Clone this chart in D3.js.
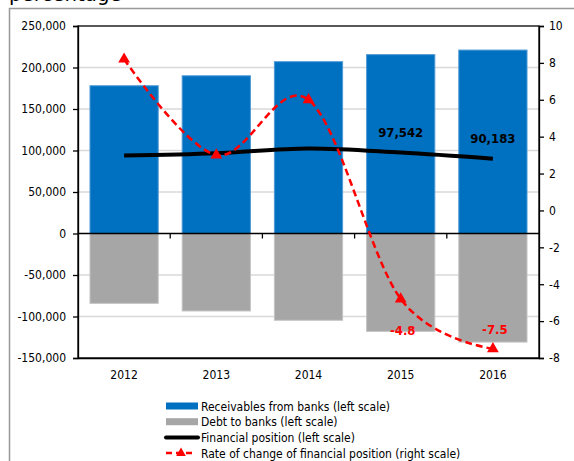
<!DOCTYPE html>
<html>
<head>
<meta charset="utf-8">
<script src="https://cdn.jsdelivr.net/npm/d3@7"></script>
<style>
  body { margin: 0; background: #fff; }
  svg text { font-family: "DejaVu Sans Condensed", "DejaVu Sans", sans-serif; }
</style>
</head>
<body>
<div id="content"></div>
<script>
// datas
const years = ["2012", "2013", "2014", "2015", "2016"];
const receivables = [178000, 190000, 207000, 215500, 221000];
const debt = [-84155, -93340, -104540, -117958, -130817];
const financial = [93845, 96660, 102460, 97542, 90183];
const rateChange = [8.2, 3.0, 6.0, -4.8, -7.5];
const leftTicks = [-150000, -100000, -50000, 0, 50000, 100000, 150000, 200000, 250000];
const rightTicks = [-8, -6, -4, -2, 0, 2, 4, 6, 8, 10];
const legendItems = [
  "Receivables from banks (left scale)",
  "Debt to banks (left scale)",
  "Financial position (left scale)",
  "Rate of change of financial position (right scale)"
];

// view
const w = 574;
const h = 461;
const plot = {left: 78, right: 539, top: 26, bottom: 358};

const svg = d3.select("#content")
  .append("svg")
  .attr("width", w)
  .attr("height", h);

const locale = d3.formatLocale({decimal: ".", thousands: ",", grouping: [3], currency: ["", ""], minus: "-"});
const fmt = locale.format(",");
const fmt1 = locale.format(".1f");

// frame + title
svg.append("path")
  .attr("d", `M9.5,${h} V8.5 H${w}`)
  .attr("fill", "none")
  .attr("stroke", "#999")
  .attr("stroke-width", 1.5);

svg.append("text")
  .attr("x", 9)
  .attr("y", 1)
  .attr("font-size", 22)
  .attr("fill", "#000")
  .text("percentage");

// scales
const x = d3.scaleBand()
  .domain(years)
  .range([plot.left, plot.right])
  .paddingInner(0.26)
  .paddingOuter(0.13);

const yL = d3.scaleLinear().domain([-150000, 250000]).range([plot.bottom, plot.top]);
const yR = d3.scaleLinear().domain([-8, 10]).range([plot.bottom, plot.top]);

// grid
svg.append("g")
  .selectAll("line")
  .data(leftTicks.filter(d => d !== 0 && d !== 250000 && d !== -150000))
  .enter()
  .append("line")
  .attr("x1", plot.left)
  .attr("x2", plot.right)
  .attr("y1", d => yL(d))
  .attr("y2", d => yL(d))
  .attr("stroke", "#d9d9d9")
  .attr("stroke-width", 1.5);

// bars
svg.append("g")
  .selectAll("rect")
  .data(receivables)
  .enter()
  .append("rect")
  .attr("x", (d, i) => x(years[i]))
  .attr("y", d => yL(d))
  .attr("width", x.bandwidth())
  .attr("height", d => yL(0) - yL(d))
  .attr("fill", "#0070c0")
  .attr("stroke", "#4f9ad6")
  .attr("stroke-width", 1);

svg.append("g")
  .selectAll("rect")
  .data(debt)
  .enter()
  .append("rect")
  .attr("x", (d, i) => x(years[i]))
  .attr("y", yL(0))
  .attr("width", x.bandwidth())
  .attr("height", d => yL(d) - yL(0))
  .attr("fill", "#a6a6a6")
  .attr("stroke", "#c4c4c4")
  .attr("stroke-width", 1);

// plot box
svg.append("rect")
  .attr("x", plot.left)
  .attr("y", plot.top)
  .attr("width", plot.right - plot.left)
  .attr("height", plot.bottom - plot.top)
  .attr("fill", "none")
  .attr("stroke", "#000")
  .attr("stroke-width", 1.3);

// axes
const axL = svg.append("g")
  .attr("transform", `translate(${plot.left},0)`)
  .call(d3.axisLeft(yL).tickValues(leftTicks).tickSize(5).tickPadding(7).tickFormat(fmt));

const axR = svg.append("g")
  .attr("transform", `translate(${plot.right},0)`)
  .call(d3.axisRight(yR).tickValues(rightTicks).tickSize(5).tickPadding(5).tickFormat(d3.format("d")));

const axB = svg.append("g")
  .attr("transform", `translate(0,${plot.bottom})`)
  .call(d3.axisBottom(x).tickSize(0).tickPadding(12));

[axL, axR, axB].forEach(a => {
  a.selectAll("text").attr("font-size", 12).attr("fill", "#000")
    .style("font-family", '"DejaVu Sans Condensed", "DejaVu Sans", sans-serif');
  a.selectAll("line").attr("stroke", "#000").attr("stroke-width", 1.3);
  a.select(".domain").attr("stroke", "#000").attr("stroke-width", 1.3);
});
axR.selectAll("text").text(d => d < 0 ? "-" + Math.abs(d) : d);

// zero line with category ticks
svg.append("line")
  .attr("x1", plot.left)
  .attr("x2", plot.right)
  .attr("y1", yL(0))
  .attr("y2", yL(0))
  .attr("stroke", "#000")
  .attr("stroke-width", 1.3);

svg.append("g")
  .selectAll("line")
  .data(years.slice(1))
  .enter()
  .append("line")
  .attr("x1", d => x(d) - x.step() * x.paddingInner() / 2)
  .attr("x2", d => x(d) - x.step() * x.paddingInner() / 2)
  .attr("y1", yL(0))
  .attr("y2", yL(0) + 5)
  .attr("stroke", "#000")
  .attr("stroke-width", 1.3);

const cx = i => x(years[i]) + x.bandwidth() / 2;

// financial position line
const lineL = d3.line()
  .x((d, i) => cx(i))
  .y(d => yL(d))
  .curve(d3.curveCardinal.tension(0));

svg.append("path")
  .datum(financial)
  .attr("d", lineL)
  .attr("fill", "none")
  .attr("stroke", "#000")
  .attr("stroke-width", 4);

// rate of change line
const lineR = d3.line()
  .x((d, i) => cx(i))
  .y(d => yR(d))
  .curve(d3.curveCardinal.tension(0));

svg.append("path")
  .datum(rateChange)
  .attr("d", lineR)
  .attr("fill", "none")
  .attr("stroke", "#ff0000")
  .attr("stroke-width", 2.5)
  .attr("stroke-dasharray", "7,4");

svg.append("g")
  .selectAll("path")
  .data(rateChange)
  .enter()
  .append("path")
  .attr("d", d3.symbol(d3.symbolTriangle, 60))
  .attr("transform", (d, i) => `translate(${cx(i)},${yR(d)})`)
  .attr("fill", "#ff0000");

// data labels
svg.append("g")
  .selectAll("text")
  .data(financial.slice(3))
  .enter()
  .append("text")
  .attr("x", (d, i) => cx(i + 3))
  .attr("y", d => yL(d) - 16)
  .attr("text-anchor", "middle")
  .attr("font-size", 13)
  .attr("font-weight", "bold")
  .attr("fill", "#000")
  .text(d => fmt(d));

const rateLabelDy = [36, -15];
svg.append("g")
  .selectAll("text")
  .data(rateChange.slice(3))
  .enter()
  .append("text")
  .attr("x", (d, i) => cx(i + 3) + 2)
  .attr("y", (d, i) => yR(d) + rateLabelDy[i])
  .attr("text-anchor", "middle")
  .attr("font-size", 13)
  .attr("font-weight", "bold")
  .attr("fill", "#ff0000")
  .text(d => fmt1(d));

// legend
const lg = svg.append("g").attr("transform", "translate(166,406)");
const rowH = 15.7;
lg.append("rect").attr("x", 0).attr("y", -3.5).attr("width", 32).attr("height", 7).attr("fill", "#0070c0");
lg.append("rect").attr("x", 0).attr("y", rowH - 3.5).attr("width", 32).attr("height", 7).attr("fill", "#a6a6a6");
lg.append("line").attr("x1", 0).attr("x2", 32).attr("y1", rowH * 2).attr("y2", rowH * 2)
  .attr("stroke", "#000").attr("stroke-width", 4).attr("stroke-linecap", "round");
lg.append("line").attr("x1", 0).attr("x2", 30).attr("y1", rowH * 3).attr("y2", rowH * 3)
  .attr("stroke", "#ff0000").attr("stroke-width", 2.5).attr("stroke-dasharray", "6,4");
lg.append("path").attr("d", d3.symbol(d3.symbolTriangle, 40))
  .attr("transform", `translate(15,${rowH * 3})`).attr("fill", "#ff0000");

lg.selectAll("text")
  .data(legendItems)
  .enter()
  .append("text")
  .attr("x", 35)
  .attr("y", (d, i) => i * rowH + 4.5)
  .attr("font-size", 12)
  .attr("fill", "#000")
  .text(d => d);
</script>
</body>
</html>
